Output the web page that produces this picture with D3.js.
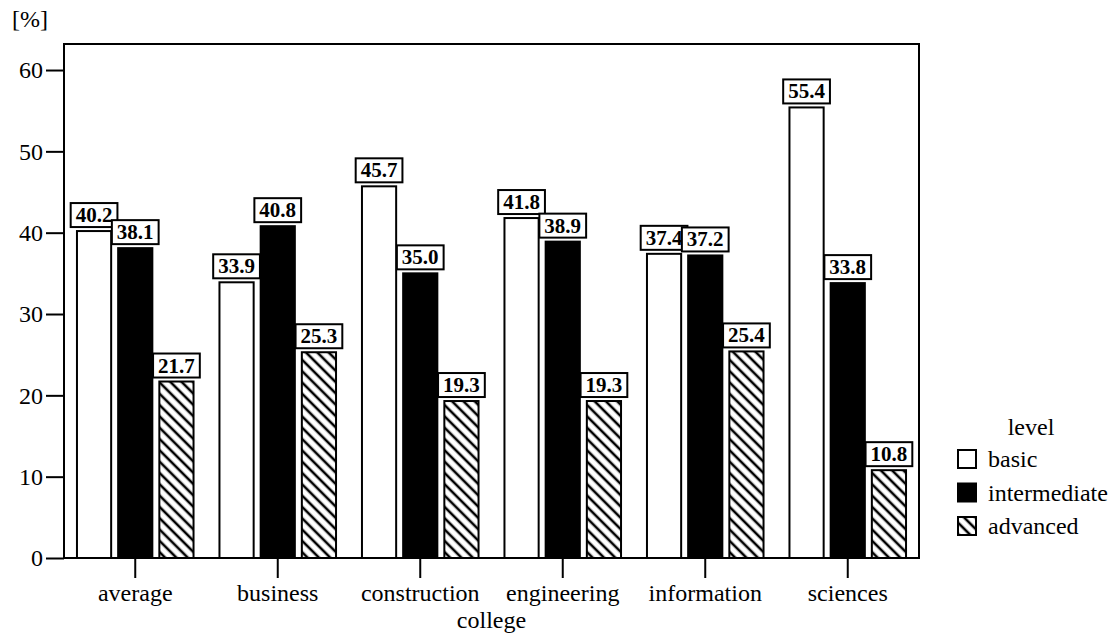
<!DOCTYPE html>
<html lang="en">
<head>
<meta charset="UTF-8">
<title>college level chart</title>
<script src="https://d3js.org/d3.v7.min.js"></script>
<style>
    body { margin: 0; background: #fff; }
    .axis path, .axis line { stroke: #000; stroke-width: 2; }
</style>
</head>
<body>
<script>
    // data
    let colleges = ["average", "business", "construction", "engineering", "information", "sciences"];
    let levels = ["basic", "intermediate", "advanced"];
    let basic = [40.2, 33.9, 45.7, 41.8, 37.4, 55.4];
    let intermediate = [38.1, 40.8, 35.0, 38.9, 37.2, 33.8];
    let advanced = [21.7, 25.3, 19.3, 19.3, 25.4, 10.8];
    let yTicks = [0, 10, 20, 30, 40, 50, 60];

    let w = 1115, h = 644;
    let frame = { left: 64, top: 44, right: 919, bottom: 558 };
    let serif = "Liberation Serif";

    let svg = d3.select("body").append("svg")
        .attr("width", w).attr("height", h)
        .style("font-family", serif);

    // hatch pattern for advanced
    let defs = svg.append("defs");
    defs.append("pattern")
        .attr("id", "hatch")
        .attr("patternUnits", "userSpaceOnUse")
        .attr("width", 8).attr("height", 8)
        .attr("patternTransform", "rotate(45)")
        .call(p => p.append("rect").attr("width", 8).attr("height", 8).attr("fill", "#fff"))
        .call(p => p.append("line")
            .attr("x1", 0).attr("x2", 8).attr("y1", 4).attr("y2", 4)
            .attr("stroke", "#000").attr("stroke-width", 2.6));

    let fills = { basic: "#fff", intermediate: "#000", advanced: "url(#hatch)" };
    let values = { basic: basic, intermediate: intermediate, advanced: advanced };

    let rows = colleges.map((c, i) => ({
        college: c,
        bars: levels.map(k => ({ key: k, value: values[k][i] }))
    }));

    let x0 = d3.scaleBand()
        .domain(colleges)
        .range([frame.left, frame.right])
        .paddingInner(0.182)
        .paddingOuter(0.091);

    let x1 = d3.scaleBand()
        .domain(levels)
        .range([0, x0.bandwidth()])
        .paddingInner(0.17);

    let y = d3.scaleLinear()
        .domain([0, 63.2])
        .range([frame.bottom, frame.top]);

    // bars
    let groups = svg.append("g").selectAll("g")
        .data(rows).enter().append("g")
        .attr("transform", d => `translate(${x0(d.college)},0)`);

    groups.selectAll("rect")
        .data(d => d.bars).enter().append("rect")
        .attr("x", d => x1(d.key))
        .attr("y", d => y(d.value))
        .attr("width", x1.bandwidth())
        .attr("height", d => y(0) - y(d.value))
        .attr("fill", d => fills[d.key])
        .attr("stroke", "#000")
        .attr("stroke-width", 2);

    // value labels in boxes
    let labels = groups.selectAll("g.lab")
        .data(d => d.bars).enter().append("g")
        .attr("class", "lab");

    labels.each(function (d) {
        let g = d3.select(this);
        let cx = x1(d.key) + x1.bandwidth() / 2;
        let bottom = y(d.value) - 4;
        let t = g.append("text")
            .attr("x", cx)
            .attr("y", bottom - 5)
            .attr("text-anchor", "middle")
            .style("font-family", serif)
            .style("font-size", "21px")
            .style("font-weight", "bold")
            .text(d.value.toFixed(1));
        let tw = t.node().getComputedTextLength();
        g.insert("rect", "text")
            .attr("x", cx - tw / 2 - 5)
            .attr("y", bottom - 24)
            .attr("width", tw + 10)
            .attr("height", 24)
            .attr("fill", "#fff")
            .attr("stroke", "#000")
            .attr("stroke-width", 2);
    });

    // axes
    svg.append("g")
        .attr("class", "axis")
        .attr("transform", `translate(${frame.left},0)`)
        .call(d3.axisLeft(y).tickValues(yTicks).tickSize(18).tickPadding(3))
        .call(g => g.select(".domain").remove());

    svg.append("g")
        .attr("class", "axis")
        .attr("transform", `translate(0,${frame.bottom})`)
        .call(d3.axisBottom(x0).tickSize(20).tickPadding(6))
        .call(g => g.select(".domain").remove());

    svg.selectAll(".axis text")
        .attr("fill", "#000")
        .style("font-family", serif)
        .style("font-size", "24px");

    // frame
    svg.append("rect")
        .attr("x", frame.left).attr("y", frame.top)
        .attr("width", frame.right - frame.left)
        .attr("height", frame.bottom - frame.top)
        .attr("fill", "none")
        .attr("stroke", "#000")
        .attr("stroke-width", 2);

    // axis titles
    svg.append("text")
        .attr("x", 12).attr("y", 27)
        .style("font-family", serif)
        .style("font-size", "24px")
        .text("[%]");

    svg.append("text")
        .attr("x", (frame.left + frame.right) / 2).attr("y", 628)
        .attr("text-anchor", "middle")
        .style("font-family", serif)
        .style("font-size", "24px")
        .text("college");

    // legend
    let legend = svg.append("g");
    legend.append("text")
        .attr("x", 1031).attr("y", 435)
        .attr("text-anchor", "middle")
        .style("font-family", serif)
        .style("font-size", "24px")
        .text("level");

    let items = legend.selectAll("g.item")
        .data(levels).enter().append("g")
        .attr("class", "item")
        .attr("transform", (d, i) => `translate(958,${450 + i * 33.5})`);

    items.append("rect")
        .attr("width", 18).attr("height", 18)
        .attr("fill", d => fills[d])
        .attr("stroke", "#000")
        .attr("stroke-width", 2);

    items.append("text")
        .attr("x", 30).attr("y", 17)
        .style("font-family", serif)
        .style("font-size", "24px")
        .text(d => d);
</script>
</body>
</html>
